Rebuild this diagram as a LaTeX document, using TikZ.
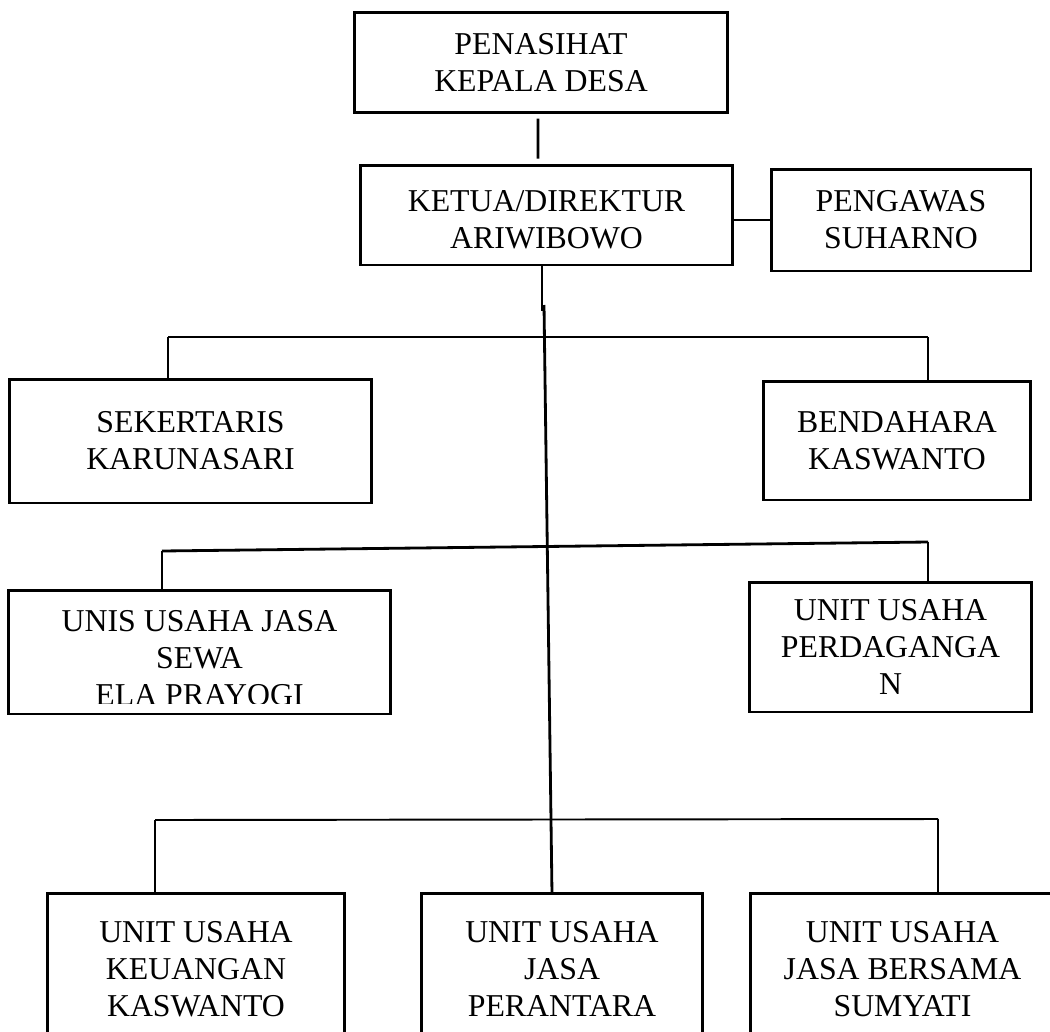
\documentclass[tikz,border=0pt]{standalone}
\usepackage{fontspec}
\setmainfont{Liberation Serif}
\usepackage{tikz}

\tikzset{
    box/.style={draw, line width=1.7pt, align=center, inner sep=0pt,
        font=\fontsize{18.1}{21}\selectfont},
    boxtext/.style={align=center, inner sep=0pt, font=\fontsize{18.1}{21}\selectfont},
    link/.style={line width=1.1pt},
    trunk/.style={line width=1.6pt}
}

\begin{document}
\begin{tikzpicture}[x=0.02cm,y=-0.02cm]
            \useasboundingbox (0,0) rectangle (1050,1031);
            \clip (0,0) rectangle (1050,1031);

            %pimpinan
            \node[box,minimum width=7.48cm,minimum height=2.02cm] (nasihat) at (541,62.5) {PENASIHAT\\KEPALA DESA};
            \node[box,minimum width=7.46cm,minimum height=2.0cm] (ketua) at (546.5,215) {};
            \node[boxtext] (ketuatext) at ([yshift=-2.6pt]ketua.center) {KETUA/DIREKTUR\\ARIWIBOWO};
            \node[box,minimum width=5.2cm,minimum height=2.04cm] (pengawas) at (901,220) {PENGAWAS\\SUHARNO};

            %pengurus
            \node[box,minimum width=7.26cm,minimum height=2.48cm] (sekretaris) at (190.5,441) {SEKERTARIS\\KARUNASARI};
            \node[box,minimum width=5.36cm,minimum height=2.38cm] (bendahara) at (897,440.5) {BENDAHARA\\KASWANTO};

            %unit usaha
            \node[box,minimum width=7.66cm,minimum height=2.48cm] (sewa) at (199.5,652) {};
            \begin{scope}
                \clip (8,590) rectangle (391,703);
                \node[boxtext,anchor=north] (sewatext) at (199.5,610) {UNIS USAHA JASA\\SEWA\\ELA PRAYOGI};
            \end{scope}
            \node[box,minimum width=5.66cm,minimum height=2.6cm] (dagang) at (890.5,647) {UNIT USAHA\\PERDAGANGA\\N};
            \node[box,minimum width=5.96cm,minimum height=3.04cm] (keuangan) at (196,969) {UNIT USAHA\\KEUANGAN\\KASWANTO};
            \node[box,minimum width=5.64cm,minimum height=3.04cm] (perantara) at (562,969) {UNIT USAHA\\JASA\\PERANTARA};
            \node[box,minimum width=6.1cm,minimum height=3.04cm] (bersama) at (902.5,969) {UNIT USAHA\\JASA BERSAMA\\SUMYATI};

            %garis
            \draw[trunk] ([xshift=-1.7pt,yshift=-2.3pt]nasihat.south) -- ([xshift=-4.8pt,yshift=2.8pt]ketua.north);
            \draw[link] (pengawas.west) -- (pengawas.west -| ketua.east);
            \draw[trunk] ([xshift=-2.6pt]ketua.south) -- ++(0,45);
            \coordinate (trunktop) at (544,305);
            \draw[trunk] (trunktop) -- ([xshift=-5.7pt,yshift=-1pt]perantara.north);

            \coordinate (busAl) at (168,337);
            \coordinate (busAr) at (928,337);
            \draw[link] (busAl) -- (busAr);
            \draw[link] (busAl) -- (busAl |- sekretaris.north);
            \draw[link] (busAr) -- (busAr |- bendahara.north);

            \coordinate (busBl) at (162,551);
            \coordinate (busBr) at (928,542);
            \draw[trunk] (busBl) -- (busBr);
            \draw[link] (busBl) -- (busBl |- sewa.north);
            \draw[link] (busBr) -- (busBr |- dagang.north);

            \coordinate (busCl) at (155,820);
            \coordinate (busCr) at (938,819);
            \draw[link] (busCl) -- (busCr);
            \draw[link] (busCl) -- (busCl |- keuangan.north);
            \draw[link] (busCr) -- (busCr |- bersama.north);
        \end{tikzpicture}
\end{document}
